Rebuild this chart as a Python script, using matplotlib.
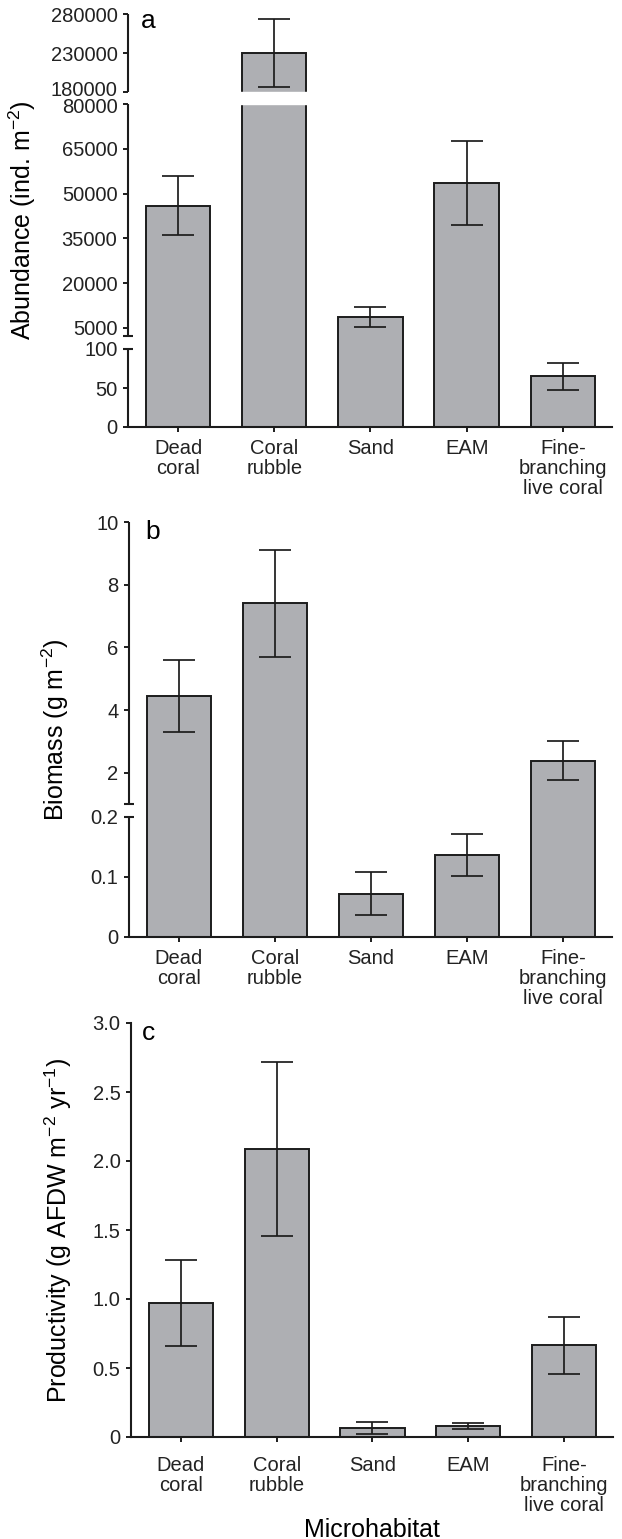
import numpy as np
import matplotlib
matplotlib.use('Agg')
import matplotlib.pyplot as plt
from matplotlib.transforms import ScaledTranslation

plt.rcParams['font.family'] = ['Liberation Sans', 'DejaVu Sans']
plt.rcParams['mathtext.fontset'] = 'custom'
plt.rcParams['mathtext.rm'] = 'Liberation Sans'
plt.rcParams['mathtext.it'] = 'Liberation Sans:italic'
plt.rcParams['mathtext.default'] = 'regular'

# data
kategorie = ['Dead\ncoral', 'Coral\nrubble', 'Sand', 'EAM', 'Fine-\nbranching\nlive coral']

abundance = [46000, 230000, 8600, 53500, 65]
abundance_err = [10000, 43000, 3400, 14000, 17]

biomasa = [4.44, 7.40, 0.072, 0.136, 2.38]
biomasa_err = [1.14, 1.70, 0.036, 0.035, 0.62]

produktivita = [0.97, 2.09, 0.065, 0.08, 0.665]
produktivita_err = [0.31, 0.63, 0.045, 0.022, 0.205]

ticky_a = [0, 50, 100, 5000, 20000, 35000, 50000, 65000, 80000, 180000, 230000, 280000]
ticky_b = [0, 0.1, 0.2, 2, 4, 6, 8, 10]
popisky_b = ['0', '0.1', '0.2', '2', '4', '6', '8', '10']
ticky_c = [0, 0.5, 1.0, 1.5, 2.0, 2.5, 3.0]
popisky_c = ['0', '0.5', '1.0', '1.5', '2.0', '2.5', '3.0']

SEDA = '#aeafb3'
CERNA = '#1c1c1c'

W, H = 622, 1539
fig = plt.figure(figsize=(W / 100, H / 100), dpi=100)


def osa(left, top, right, bottom):
    return fig.add_axes([left / W, 1 - bottom / H, (right - left) / W, (bottom - top) / H])


def zlom(hodnoty, pozice):
    hodnoty = np.array(hodnoty, float)
    pozice = np.array(pozice, float)

    def fwd(v):
        return np.interp(v, hodnoty, pozice)

    def inv(p):
        return np.interp(p, pozice, hodnoty)
    return fwd, inv


def nakresli(ax, hodnoty, chyby, xpad=5):
    x = np.arange(len(kategorie))
    ax.bar(x, hodnoty, width=0.67, color=SEDA, edgecolor=CERNA, linewidth=1.4, zorder=2)
    ax.errorbar(x, hodnoty, yerr=chyby, fmt='none', ecolor=CERNA, elinewidth=1.25,
                capsize=11.5, capthick=1.25, zorder=3)
    ax.set_xlim(-0.52, 4.51)
    ax.set_xticks(x)
    ax.set_xticklabels(kategorie, linespacing=1.08)
    for s in ['top', 'right']:
        ax.spines[s].set_visible(False)
    ax.spines['bottom'].set_linewidth(1.5)
    ax.spines['bottom'].set_color(CERNA)
    ax.spines['left'].set_linewidth(1.5)
    ax.spines['left'].set_color(CERNA)
    ax.tick_params(direction='out', length=3.6, width=1.4, labelsize=14.5, color=CERNA,
                   labelcolor='#222222')
    ax.tick_params(axis='x', pad=xpad)
    ax.tick_params(axis='y', pad=4)


def zlomena_osa(ax, useky, zlomy):
    ax.spines['left'].set_visible(False)
    tr = ax.get_yaxis_transform()
    for lo, hi in useky:
        ax.plot([0, 0], [lo, hi], transform=tr, color=CERNA, lw=1.5, clip_on=False,
                zorder=6, solid_capstyle='butt')
    for z in zlomy:
        ax.plot([0], [z], transform=tr, marker='_', markersize=7, mew=1.5, color=CERNA,
                clip_on=False, zorder=6)


def posun_popisek(ax, index, dy_px):
    lbl = ax.yaxis.get_major_ticks()[index].label1
    lbl.set_transform(lbl.get_transform() + ScaledTranslation(0, dy_px / 100, fig.dpi_scale_trans))


# a) abundance
ax_a = osa(128, 14, 612, 427)
ax_a.set_yscale('function', functions=zlom([0, 100, 2300, 80000, 180000, 280000],
                                           [0, 78, 91, 323, 335, 413]))
nakresli(ax_a, abundance, abundance_err)
ax_a.set_ylim(0, 280000)
ax_a.set_yticks(ticky_a)
ax_a.set_yticklabels([str(t) for t in ticky_a])
ax_a.yaxis.set_minor_locator(matplotlib.ticker.NullLocator())
ax_a.axhspan(80000, 180000, color='white', zorder=5)
zlomena_osa(ax_a, [(0, 100), (2300, 80000), (180000, 280000)], [100, 2300])
posun_popisek(ax_a, 9, 4)
posun_popisek(ax_a, 8, -1)
ax_a.set_ylabel('Abundance (ind. m$^{-2}$)', fontsize=18)
ax_a.yaxis.set_label_coords(-0.186, 0.5)
ax_a.text(0.027, 0.966, 'a', transform=ax_a.transAxes, fontsize=19, va='baseline')

# b) biomasa
ax_b = osa(129, 522, 612, 937)
ax_b.set_yscale('function', functions=zlom([0, 0.2, 1.0, 10], [0, 120, 133, 415]))
nakresli(ax_b, biomasa, biomasa_err)
ax_b.set_ylim(0, 10)
ax_b.set_yticks(ticky_b)
ax_b.set_yticklabels(popisky_b)
ax_b.yaxis.set_minor_locator(matplotlib.ticker.NullLocator())
zlomena_osa(ax_b, [(0, 0.2), (1.0, 10)], [0.2, 1.0])
ax_b.set_ylabel('Biomass (g m$^{-2}$)', fontsize=18)
ax_b.yaxis.set_label_coords(-0.12, 0.5)
ax_b.text(0.033, 0.959, 'b', transform=ax_b.transAxes, fontsize=19, va='baseline')

# c) produktivita
ax_c = osa(131, 1023, 613, 1437)
nakresli(ax_c, produktivita, produktivita_err, xpad=10)
ax_c.set_ylim(0, 3.0)
ax_c.set_yticks(ticky_c)
ax_c.set_yticklabels(popisky_c)
ax_c.set_ylabel('Productivity (g AFDW m$^{-2}$ yr$^{-1}$)', fontsize=18)
ax_c.yaxis.set_label_coords(-0.118, 0.5)
ax_c.set_xlabel('Microhabitat', fontsize=18)
ax_c.xaxis.set_label_coords(0.5, -0.195)
ax_c.text(0.023, 0.959, 'c', transform=ax_c.transAxes, fontsize=19, va='baseline')

fig.savefig('out.png', dpi=100)
